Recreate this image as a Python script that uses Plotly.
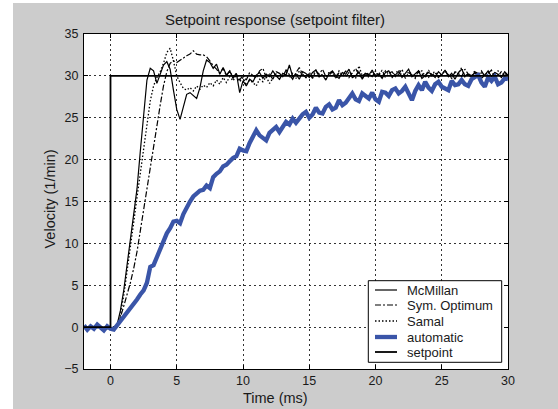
import numpy as np
import plotly.graph_objects as go

# Sample times (ms), regular 0.25 ms grid from -2 to 30
t_ms = np.round(np.arange(-2.0, 30.0001, 0.25), 2)

# Measured velocity (1/min) for each tuning method
mcmillan = [
    0.0, -0.1, 0.1, -0.2, 0.0, -0.1, -0.3, 0.0, -0.1,
    0.0, 0.3, 2.0, 4.4, 7.5, 10.5, 13.5, 16.5, 21.0, 25.5, 29.5, 30.9,
    30.6, 29.1, 30.2, 31.3, 31.7, 30.8, 28.3, 26.0, 24.8, 26.2,
    27.8, 28.0, 27.6, 27.3, 28.6, 30.6, 31.9, 31.6, 30.9, 31.4,
    30.2, 31.0, 30.1, 30.6, 29.7, 30.3, 28.0, 29.4,
    28.8, 29.6, 29.3, 30.1, 30.4, 29.7, 30.2, 29.9, 30.6, 30.0,
    29.6, 30.3, 30.1, 31.3, 29.9, 30.2, 29.6, 30.5, 30.3, 29.8,
    30.4, 30.7, 29.9, 30.1, 29.5, 30.3, 30.6, 30.0, 29.7, 30.4,
    30.2, 30.8, 29.8, 30.0, 30.5, 29.6, 30.3, 30.1, 30.7, 29.9,
    30.2, 29.7, 30.4, 30.6, 29.9, 30.1, 30.5, 29.8, 30.3, 30.8,
    29.9, 30.2, 30.6, 29.7, 30.0, 30.4, 30.2, 29.8, 30.5, 30.1,
    30.7, 29.9, 30.3, 29.6, 30.4, 30.8, 30.0, 30.2, 29.8, 30.5,
    30.3, 29.7, 30.1, 30.6, 29.9, 30.4, 30.2, 29.8, 30.5, 30.1,
]

sym_optimum = [
    -0.1, 0.0, -0.2, 0.1, -0.1, 0.0, -0.2, 0.1, 0.0,
    0.0, 0.3, 1.2, 2.5, 3.8, 5.3, 7.0, 9.0, 11.5, 14.0, 17.0, 19.3,
    21.5, 24.0, 26.5, 28.8, 30.5, 31.5, 31.8, 31.6, 31.9, 32.2,
    32.4, 32.6, 33.0, 32.6, 32.5, 32.5, 32.3, 31.8, 31.2, 30.8,
    30.3, 30.9, 30.0, 30.6, 29.8, 30.3, 29.5, 30.1,
    29.5, 30.4, 30.1, 29.7, 30.6, 30.9, 29.8, 30.2, 29.6, 30.5,
    30.3, 29.9, 30.7, 30.1, 29.6, 30.4, 31.0, 30.2, 29.8, 30.3,
    29.7, 30.6, 30.2, 30.8, 29.9, 30.1, 30.5, 29.7, 30.4, 30.0,
    30.6, 29.8, 30.3, 30.9, 30.1, 29.7, 30.4, 30.2, 29.9, 30.6,
    30.0, 30.7, 29.8, 30.3, 30.5, 29.9, 30.2, 30.8, 29.7, 30.4,
    30.1, 29.8, 30.6, 30.3, 29.9, 30.7, 30.0, 30.4, 29.8, 30.2,
    30.6, 30.1, 29.7, 30.5, 30.3, 29.9, 30.8, 30.2, 29.8, 30.4,
    30.0, 30.6, 29.9, 30.3, 30.7, 29.8, 30.2, 30.5, 30.0, 30.3,
]

samal = [
    0.1, -0.1, 0.0, -0.2, 0.1, 0.0, -0.1, -0.2, 0.0,
    0.0, 0.2, 1.5, 3.8, 6.5, 9.5, 12.5, 15.5, 18.5, 21.5, 24.5, 27.0,
    28.8, 29.8, 30.5, 31.5, 32.8, 33.3, 31.8, 30.0, 29.2, 28.5,
    28.3, 28.6, 28.2, 28.8, 28.4, 28.9, 28.6, 29.2, 28.8, 29.5,
    29.0, 29.8, 29.2, 29.9, 29.4, 30.1, 29.3, 29.8,
    28.9, 29.5, 29.2, 28.8, 29.6, 29.3, 29.9, 29.1, 29.7, 30.2,
    29.6, 30.0, 30.5, 29.8, 30.3, 29.7, 30.6, 30.1, 29.8, 30.4,
    30.0, 30.7, 29.9, 30.2, 29.6, 30.5, 30.3, 29.8, 30.6, 30.1,
    29.9, 30.4, 30.2, 29.7, 31.2, 30.0, 30.3, 29.8, 30.5, 30.1,
    30.4, 29.9, 30.6, 30.2, 29.8, 30.3, 30.7, 30.0, 29.9, 30.5,
    30.2, 29.7, 30.4, 30.6, 30.0, 29.8, 30.3, 30.5, 29.9, 30.2,
    30.6, 30.1, 29.8, 30.4, 30.2, 31.0, 29.9, 30.3, 30.0, 30.6,
    29.8, 30.4, 30.1, 30.5, 29.9, 30.3, 30.6, 30.0, 30.2, 30.4,
]

automatic = [
    0.2, -0.3, 0.1, -0.2, 0.3, -0.1, -0.4, 0.1, -0.2,
    -0.3, 0.2, 0.8, 1.2, 1.8, 2.4, 2.9, 3.3, 3.9, 4.4,
    5.3, 7.2, 7.4, 8.4, 9.2, 10.3, 11.2, 11.8, 12.6, 12.7,
    12.4, 13.5, 14.4, 15.0, 15.6, 16.0, 16.3, 16.4, 16.9, 16.6,
    17.9, 18.3, 18.6, 19.2, 19.4, 19.8, 20.2, 20.4, 21.3, 21.1,
    21.0, 22.0, 22.8, 23.5, 22.9, 22.6, 22.3, 23.2, 23.6, 23.9,
    23.3, 23.9, 24.5, 24.2, 24.9, 24.4, 25.0, 25.4, 25.7, 25.0,
    25.4, 26.2, 25.6, 25.5, 26.3, 26.6, 26.0, 26.2, 27.1, 26.5,
    26.8, 27.4, 27.9, 27.2, 27.0, 27.9, 27.6, 27.3, 28.0, 27.2,
    26.9, 28.1, 28.0, 27.6, 28.3, 28.5, 27.9, 28.2, 28.7, 27.9,
    27.1, 28.2, 28.9, 28.3, 29.3, 28.6, 28.2, 29.0, 29.3, 28.7,
    28.5, 28.3, 29.4, 28.9, 29.0, 29.5, 29.0, 28.8, 29.6, 29.9,
    30.1, 29.2, 28.7, 29.8, 29.4, 29.9, 29.0, 29.2, 29.7, 29.6,
]

# Setpoint step: 0 before t = 0, 30 afterwards
setpoint_t = [-2, 0, 0, 30]
setpoint_v = [0, 0, 30, 30]

x_ticks = [0, 5, 10, 15, 20, 25, 30]
y_ticks = [-5, 0, 5, 10, 15, 20, 25, 30, 35]

FONT = "Liberation Sans, Arial, sans-serif"
TXT = "#1a1a1a"
BLUE = "#3a55a8"

# Plot-area geometry in pixels, used to place the legend box and labels
L, R, T, B = 84, 508, 34, 369
def px(xp):
    return (xp - L) / (R - L)
def py(yp):
    return (B - yp) / (B - T)

series = [
    ("McMillan", mcmillan, dict(color="black", width=1.2)),
    ("Sym. Optimum", sym_optimum, dict(color="black", width=1.2, dash="6px,2px,2px,2px")),
    ("Samal", samal, dict(color="black", width=1.3, dash="1.5px,2px")),
    ("automatic", automatic, dict(color=BLUE, width=4.3)),
]

fig = go.Figure()
for name, vals, line in series:
    fig.add_trace(go.Scatter(x=t_ms, y=vals, mode="lines", name=name, line=line))
fig.add_trace(go.Scatter(x=setpoint_t, y=setpoint_v, mode="lines", name="setpoint",
                         line=dict(color="black", width=1.8)))

axis_common = dict(
    showline=True, linecolor="black", linewidth=1, mirror="ticks",
    ticks="inside", ticklen=4, tickcolor="black",
    showgrid=True, gridcolor="#333333", gridwidth=1, griddash="2px,3px",
    zeroline=False, tickfont=dict(family=FONT, size=12.5, color=TXT),
)
fig.update_xaxes(range=[-2, 30], tickvals=x_ticks, **axis_common)
fig.update_yaxes(range=[-5, 35], tickvals=y_ticks, ticklabelstandoff=2, **axis_common)

# White margin strips along the left and top of the grey figure area
fig.add_shape(type="rect", xref="paper", yref="paper", x0=px(-5), x1=px(13),
              y0=py(415), y1=py(-5), fillcolor="white", line_width=0)
fig.add_shape(type="rect", xref="paper", yref="paper", x0=px(-5), x1=px(565),
              y0=py(3), y1=py(-5), fillcolor="white", line_width=0)

# Compact boxed legend in the lower right corner
fig.add_shape(type="rect", xref="paper", yref="paper",
              x0=px(368.3), x1=px(501.7), y0=py(362.3), y1=py(280.7),
              fillcolor="white", line=dict(color="black", width=1))
legend_rows = [290, 305, 321, 337, 352]
legend_items = [(name, line) for name, _, line in series] + \
               [("setpoint", dict(color="black", width=1.8))]
for yrow, (name, line) in zip(legend_rows, legend_items):
    fig.add_shape(type="line", xref="paper", yref="paper",
                  x0=px(375), x1=px(397), y0=py(yrow), y1=py(yrow), line=line)
    fig.add_annotation(text=name, xref="paper", yref="paper", x=px(405), y=py(yrow),
                       showarrow=False, xanchor="left", yanchor="middle",
                       font=dict(family=FONT, size=13, color=TXT))

fig.add_annotation(text="Setpoint response (setpoint filter)", xref="paper", yref="paper",
                   x=px(275), y=py(19), showarrow=False, xanchor="center", yanchor="middle",
                   font=dict(family=FONT, size=15, color=TXT))
fig.add_annotation(text="Time (ms)", xref="paper", yref="paper",
                   x=px(275), y=py(398), showarrow=False, xanchor="center", yanchor="middle",
                   font=dict(family=FONT, size=14.5, color=TXT))
fig.add_annotation(text="Velocity (1/min)", xref="paper", yref="paper",
                   x=px(49.5), y=py(199), showarrow=False, textangle=-90,
                   xanchor="center", yanchor="middle",
                   font=dict(family=FONT, size=14.5, color=TXT))

fig.update_layout(
    width=558, height=409,
    margin=dict(l=L, r=558 - R, t=T, b=409 - B),
    paper_bgcolor="#cccccc", plot_bgcolor="white",
    showlegend=False,
)

fig.write_html("out.html")
